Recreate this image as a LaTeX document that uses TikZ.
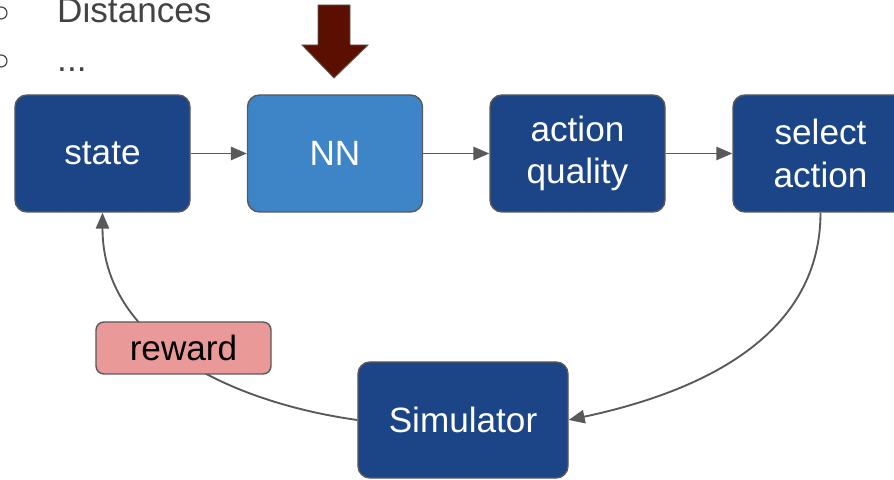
\documentclass[tikz,border=0pt]{standalone}
\usepackage{fontspec}
\setmainfont{Liberation Sans}
\usetikzlibrary{arrows.meta}
\definecolor{darkblue}{HTML}{1C4587}
\definecolor{lightblue}{HTML}{3D85C6}
\definecolor{rosepink}{HTML}{EA9999}
\definecolor{edgegray}{HTML}{595959}
\definecolor{textgray}{HTML}{434343}
\definecolor{maroon}{HTML}{5B0F00}
\begin{document}
\begin{tikzpicture}[
        x=0.03cm, y=0.03cm,
        box/.style={draw=edgegray, line width=1.2pt, rounded corners=0.36cm, fill=darkblue, text=white,
            minimum width=5.25cm, minimum height=3.51cm, align=center,
            font=\fontsize{30}{36}\selectfont},
        flow/.style={draw=edgegray, line width=1.6pt, -{Triangle[length=0.48cm, width=0.4cm]}}
    ]
        \useasboundingbox (0,0) rectangle (894,480);

        % list items above the diagram
        \draw[textgray, line width=1pt] (1,467) circle (6);
        \draw[textgray, line width=1pt] (1,419) circle (6);
        \node[anchor=base west, text=textgray, font=\fontsize{30}{36}\selectfont, inner sep=0pt] (dist) at (57,457) {Distances};
        \node[anchor=base west, text=textgray, font=\fontsize{30}{36}\selectfont, inner sep=0pt] (more) at (57,408) {...};

        % main loop
        \node[box] (state) at (102.5,326.5) {state};
        \node[box, fill=lightblue] (nn) at (335,326.5) {NN};
        \node[box] (quality) at (577.5,326.5) {action\\quality};
        \node[box] (select) at (820.5,326.5) {select\\action};
        \node[box, minimum width=6.3cm, minimum height=3.48cm] (sim) at (463,60) {Simulator};

        % input arrow into the network
        \filldraw[fill=maroon, draw=edgegray, line width=0.8pt]
            (318,475) -- (350,475) -- (350,435) -- (368,435) -- (334,402) -- (302,435) -- (318,435) -- cycle;

        \draw[flow] (state) -- (nn);
        \draw[flow] (nn) -- (quality);
        \draw[flow] (quality) -- (select);
        \draw[flow] (select.south) to[out=-90, in=12] (sim.east);
        \draw[flow] (sim.west) to[out=172, in=-90] (state.south);

        \node[box, fill=rosepink, text=black, minimum width=5.25cm, minimum height=1.56cm, rounded corners=0.24cm] (reward) at (183.5,132) {reward};
    \end{tikzpicture}
\end{document}
